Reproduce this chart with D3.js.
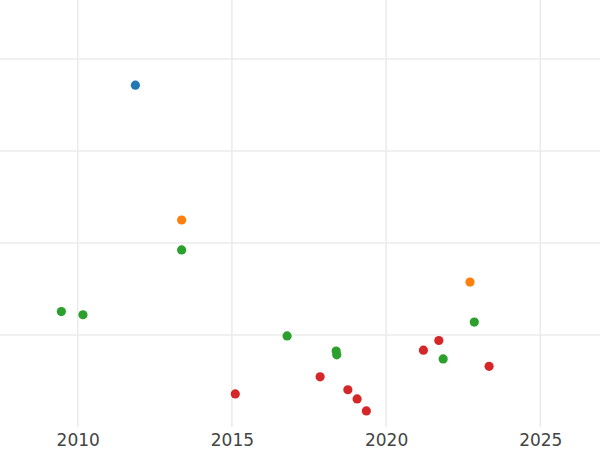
<!DOCTYPE html>
<html><head><meta charset="utf-8">
<script src="https://cdn.jsdelivr.net/npm/d3@7"></script>
<style>body{margin:0;background:#fff;}svg{display:block;}</style>
</head><body>
<svg id="c" width="600" height="450"></svg>
<script>
const years = [2011.87, 2013.37, 2013.37, 2009.47, 2010.17, 2016.79, 2015.11, 2022.72, 2022.86, 2021.71, 2021.21, 2021.85, 2023.34, 2018.38, 2018.40, 2017.86, 2018.76, 2019.06, 2019.36];
const values = [74.3, 45.0, 38.5, 25.1, 24.4, 19.8, 7.2, 31.5, 22.8, 18.8, 16.7, 14.8, 13.2, 16.5, 15.7, 10.9, 8.1, 6.1, 3.5];
const groups = ["A","B","C","C","C","C","D","B","C","D","D","C","D","C","C","D","D","D","D"];
const groupNames = ["A","B","C","D"];
const groupColors = ["#1f77b4","#ff7f0e","#2ca02c","#d62728"];
const xTicks = [2010, 2015, 2020, 2025];
const yTicks = [20, 40, 60, 80];

const svg = d3.select("#c");
const W = 600, bottom = 427;
const x = d3.scaleLinear().domain([2010, 2025]).range([77.7, 540.3]);
const y = d3.scaleLinear().domain([0, 20]).range([bottom, 335]);
const color = d3.scaleOrdinal().domain(groupNames).range(groupColors);

const grid = svg.append("g");
grid.selectAll("line.h").data(yTicks).join("line")
  .attr("x1", 0).attr("x2", W).attr("y1", d => y(d)).attr("y2", d => y(d))
  .attr("stroke", "#ebebeb").attr("stroke-width", 1.6);
grid.selectAll("line.v").data(xTicks).join("line")
  .attr("x1", d => x(d)).attr("x2", d => x(d)).attr("y1", 0).attr("y2", bottom)
  .attr("stroke", "#ebebeb").attr("stroke-width", 1.6);

const xAxis = d3.axisBottom(x).tickValues(xTicks).tickFormat(d3.format("d")).tickSize(0).tickPadding(7);
const ax = svg.append("g").attr("transform", `translate(0,${bottom})`).call(xAxis);
ax.select(".domain").remove();
ax.selectAll("text").attr("font-family", "DejaVu Sans").attr("font-size", 17).attr("fill", "#444");

svg.append("g").selectAll("circle").data(years.map((d,i)=>i)).join("circle")
  .attr("cx", i => x(years[i])).attr("cy", i => y(values[i])).attr("r", 4.6)
  .attr("fill", i => color(groups[i]));
</script>
</body></html>
